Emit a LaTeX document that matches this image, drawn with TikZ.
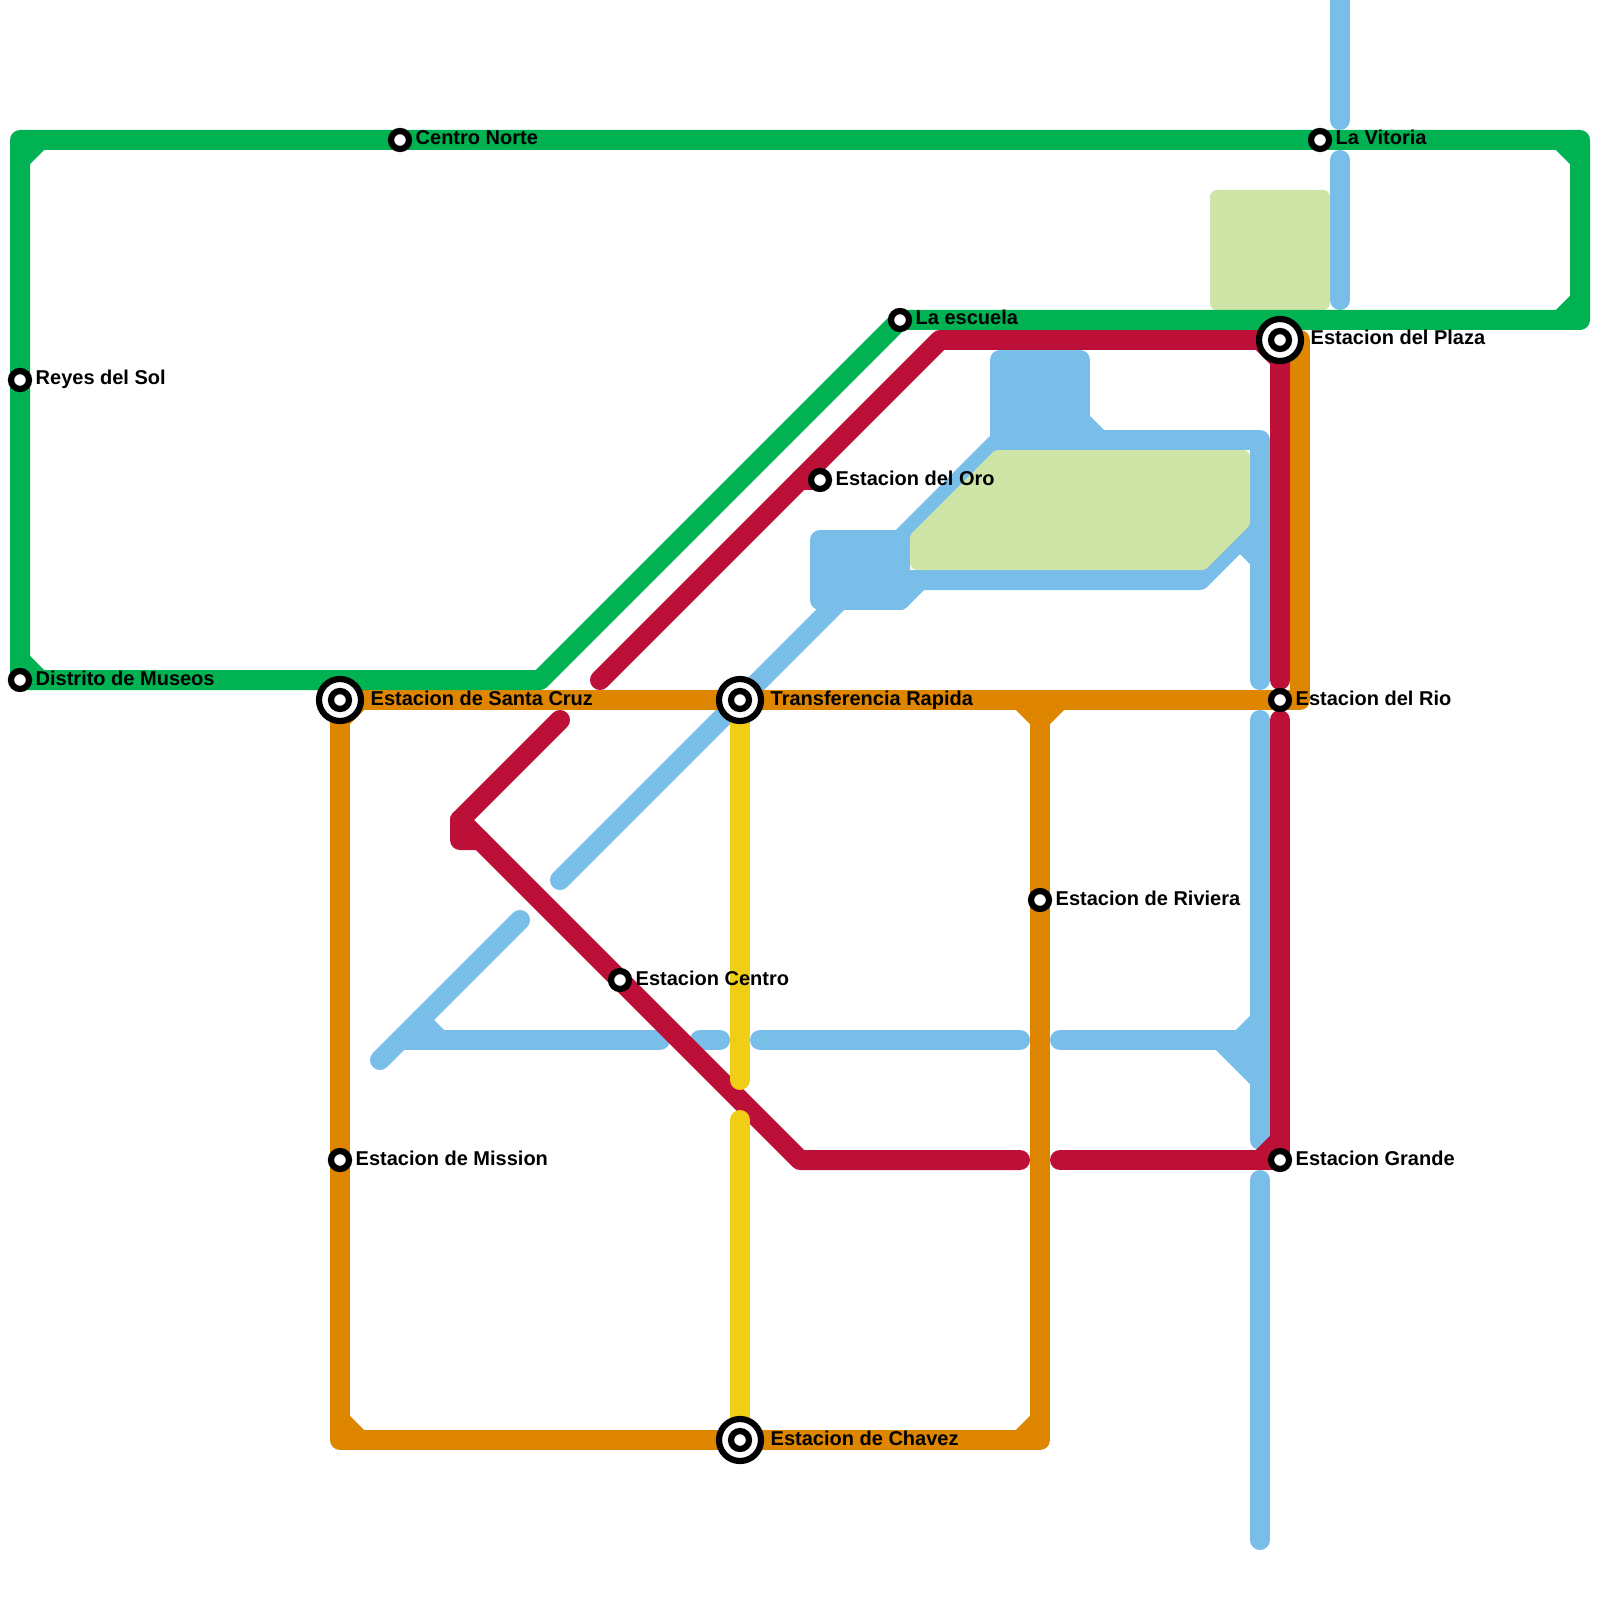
\documentclass[tikz,border=0pt]{standalone}
\usepackage{fontspec}
\setmainfont{Liberation Sans}
\usetikzlibrary{backgrounds}
\definecolor{lgreen}{HTML}{00B251}
\definecolor{lorange}{HTML}{DF8600}
\definecolor{lred}{HTML}{BD1038}
\definecolor{lyellow}{HTML}{F0CE15}
\definecolor{lblue}{HTML}{79BDE9}
\definecolor{lpark}{HTML}{CFE4A7}
\tikzset{
  metro_line/.style = {line width=2mm, line cap=round, line join=round},
  green_line/.style = {metro_line, draw=lgreen},
  orange_line/.style = {metro_line, draw=lorange},
  red_line/.style = {metro_line, draw=lred},
  yellow_line/.style = {metro_line, draw=lyellow},
  blue_line/.style = {metro_line, draw=lblue},
  park/.style = {fill=lpark, rounded corners=.7mm},
  station_node/.style = {circle, draw=black, fill=white, line width=.62mm,
    inner sep=0pt, outer sep=0pt, minimum size=1.8mm},
  interchange_node/.style = {station_node, minimum size=4.2mm},
  stop_label/.style = {anchor=base west, inner sep=0pt, xshift=1.5mm, yshift=-.5mm,
    font=\bfseries\fontsize{5.69pt}{6pt}\selectfont},
  big_label/.style = {stop_label, xshift=1.5mm}
}
\begin{document}
\begin{tikzpicture}[x=2mm, y=-2mm]
  \useasboundingbox (0,0) rectangle (80,80);
  % stations
  \node [station_node] (reyes) at (1,19) {};
  \node [station_node] (distrito) at (1,34) {};
  \node [station_node] (norte) at (20,7) {};
  \node [station_node] (vitoria) at (66,7) {};
  \node [station_node] (escuela) at (45,16) {};
  \node [station_node] (oro) at (41,24) {};
  \node [station_node] (centro) at (31,49) {};
  \node [station_node] (riviera) at (52,45) {};
  \node [station_node] (mission) at (17,58) {};
  \node [station_node] (rio) at (64,35) {};
  \node [station_node] (grande) at (64,58) {};
  \node [interchange_node] (cruz) at (17,35) {};
  \node [interchange_node] (transfer) at (37,35) {};
  \node [interchange_node] (plaza) at (64,17) {};
  \node [interchange_node] (chavez) at (37,72) {};
  \node [station_node] (cruz_in) at (cruz) {};
  \node [station_node] (transfer_in) at (transfer) {};
  \node [station_node] (plaza_in) at (plaza) {};
  \node [station_node] (chavez_in) at (chavez) {};
  % labels
  \node [stop_label] (reyes_label) at (reyes) {Reyes del Sol};
  \node [stop_label] (distrito_label) at (distrito) {Distrito de Museos};
  \node [stop_label] (norte_label) at (norte) {Centro Norte};
  \node [stop_label] (vitoria_label) at (vitoria) {La Vitoria};
  \node [stop_label] (escuela_label) at (escuela) {La escuela};
  \node [stop_label] (oro_label) at (oro) {Estacion del Oro};
  \node [stop_label] (centro_label) at (centro) {Estacion Centro};
  \node [stop_label] (riviera_label) at (riviera) {Estacion de Riviera};
  \node [stop_label] (mission_label) at (mission) {Estacion de Mission};
  \node [stop_label] (rio_label) at (rio) {Estacion del Rio};
  \node [stop_label] (grande_label) at (grande) {Estacion Grande};
  \node [big_label] (cruz_label) at (cruz) {Estacion de Santa Cruz};
  \node [big_label] (transfer_label) at (transfer) {Transferencia Rapida};
  \node [big_label] (plaza_label) at (plaza) {Estacion del Plaza};
  \node [big_label] (chavez_label) at (chavez) {Estacion de Chavez};
  % bends and line ends
  \coordinate (g_tl) at (1,7);
  \coordinate (g_tr) at (79,7);
  \coordinate (g_br) at (79,16);
  \coordinate (g_bend) at (27,34);
  \coordinate (o_tr) at (65,17);
  \coordinate (o_br) at (65,35);
  \coordinate (o_t) at (52,35);
  \coordinate (o_bl) at (17,72);
  \coordinate (o_bb) at (52,72);
  \coordinate (r_top) at (47,17);
  \coordinate (r_a) at (30,34);
  \coordinate (r_b) at (28,36);
  \coordinate (r_fold) at (23,41);
  \coordinate (r_foot) at (23,42);
  \coordinate (r_toe) at (24,42);
  \coordinate (r_low) at (40,58);
  \coordinate (r_c) at (51,58);
  \coordinate (r_d) at (53,58);
  \coordinate (r_e) at (64,36);
  \coordinate (r_f) at (64,34);
  \coordinate (r_oro) at (40,24);
  \coordinate (y_a) at (37,54);
  \coordinate (y_b) at (37,56);
  \coordinate (b_top) at (67,-1);
  \coordinate (b_a) at (67,6);
  \coordinate (b_b) at (67,8);
  \coordinate (b_c) at (67,15);
  \coordinate (b_ul) at (50,18);
  \coordinate (b_ur) at (54,22);
  \coordinate (b_ll) at (41,27);
  \coordinate (b_lr) at (45,30);
  \coordinate (b_d) at (50,22);
  \coordinate (b_e) at (28,44);
  \coordinate (b_f) at (63,22);
  \coordinate (b_g) at (63,34);
  \coordinate (b_h) at (45,29);
  \coordinate (b_i) at (60,29);
  \coordinate (b_j) at (63,26);
  \coordinate (b_k) at (63,36);
  \coordinate (b_l) at (63,57);
  \coordinate (b_m) at (63,59);
  \coordinate (b_n) at (63,77);
  \coordinate (b_o) at (53,52);
  \coordinate (b_p) at (63,52);
  \coordinate (b_q) at (38,52);
  \coordinate (b_r) at (51,52);
  \coordinate (b_s) at (35,52);
  \coordinate (b_t) at (36,52);
  \coordinate (b_u) at (20,52);
  \coordinate (b_v) at (33,52);
  \coordinate (b_w) at (26,46);
  \coordinate (b_x) at (19,53);
  \begin{scope}[on background layer]
    \clip (0,0) rectangle (80,80);
    % blue
    \draw [blue_line] (b_top) -- (b_a);
    \draw [blue_line] (b_b) -- (b_c);
    \filldraw [blue_line, fill=lblue] (b_ul) rectangle (b_ur);
    \filldraw [blue_line, fill=lblue] (b_ll) rectangle (b_lr);
    \draw [blue_line] (b_d) -- (b_e);
    \draw [blue_line] (b_d) -- (b_f) -- (b_g);
    \draw [blue_line] (b_h) -- (b_i) -- (b_j);
    \draw [blue_line] ([xshift=2mm]b_h) -- (b_lr);
    \draw [blue_line] ([yshift=2mm]b_ur) -- ([xshift=2mm]b_ur);
    \draw [blue_line] ([xshift=-2mm,yshift=-2mm]b_j) -- ([yshift=-4mm]b_j);
    \draw [blue_line] (b_k) -- (b_l);
    \draw [blue_line] (b_m) -- (b_n);
    \draw [blue_line] (b_o) -- (b_p);
    \draw [blue_line] ([yshift=2mm]b_p) -- ([xshift=-2mm]b_p);
    \draw [blue_line] ([xshift=-4mm]b_p) -- ([yshift=-4mm]b_p);
    \draw [blue_line] ([xshift=-2mm]b_p) -- ([yshift=-2mm]b_p);
    \draw [blue_line] (b_q) -- (b_r);
    \draw [blue_line] (b_s) -- (b_t);
    \draw [blue_line] (b_u) -- (b_v);
    \draw [blue_line] (b_w) -- (b_x);
    \draw [blue_line] ([xshift=2mm,yshift=2mm]b_u) -- ([xshift=4mm]b_u);
    % parks
    \fill [park] (60.5,9.5) rectangle (66.5,15.5);
    \fill [park] (49.75,22.5) -- (62.5,22.5) [rounded corners=.2mm] -- (62.5,26.25)
      -- (60.25,28.5) [rounded corners=.7mm] -- (45.5,28.5) [rounded corners=.3mm]
      -- (45.5,26.75) -- cycle;
    % orange
    \draw [orange_line] (cruz.center) -- (transfer.center) -- (rio.center)
      -- (o_br) -- (o_tr) -- (plaza.center);
    \draw [orange_line] (cruz.center) -- (mission.center) -- (o_bl)
      -- (chavez.center) -- (o_bb) -- (riviera.center) -- (o_t);
    \draw [orange_line] ([xshift=-2mm]o_t) -- ([yshift=-2mm]o_t) -- ([xshift=2mm]o_t);
    \draw [orange_line] ([yshift=2mm]o_bl) -- ([xshift=2mm]o_bl);
    \draw [orange_line] ([yshift=2mm]o_bb) -- ([xshift=-2mm]o_bb);
    \draw [orange_line] ([yshift=-2mm]cruz.center) -- ([xshift=2mm]cruz.center);
    % red
    \draw [red_line] (r_a) -- (r_top) -- (plaza.center) -- (r_f);
    \draw [red_line] (r_oro) -- (oro.center);
    \draw [red_line] (r_b) -- (r_fold) -- (r_foot) -- (r_toe);
    \draw [red_line] (r_fold) -- (centro.center) -- (r_low) -- (r_c);
    \draw [red_line] (r_d) -- (grande.center) -- (r_e);
    \draw [red_line] ([xshift=-2mm]grande.center) -- ([yshift=2mm]grande.center);
    \draw [red_line] ([xshift=-2mm]plaza.center) -- ([yshift=-2mm]plaza.center);
    % green
    \draw [green_line] (distrito.center) -- (reyes.center) -- (g_tl) -- (norte.center)
      -- (vitoria.center) -- (g_tr) -- (g_br) -- (escuela.center) -- (g_bend)
      -- (distrito.center);
    \draw [green_line] ([yshift=-2mm]g_tl) -- ([xshift=2mm]g_tl);
    \draw [green_line] ([xshift=-2mm]g_tr) -- ([yshift=-2mm]g_tr);
    \draw [green_line] ([xshift=-2mm]g_br) -- ([yshift=2mm]g_br);
    \draw [green_line] ([yshift=2mm]distrito.center) -- ([xshift=2mm]distrito.center);
    % yellow
    \draw [yellow_line] (transfer.center) -- (y_a);
    \draw [yellow_line] (y_b) -- (chavez.center);
  \end{scope}
\end{tikzpicture}
\end{document}
